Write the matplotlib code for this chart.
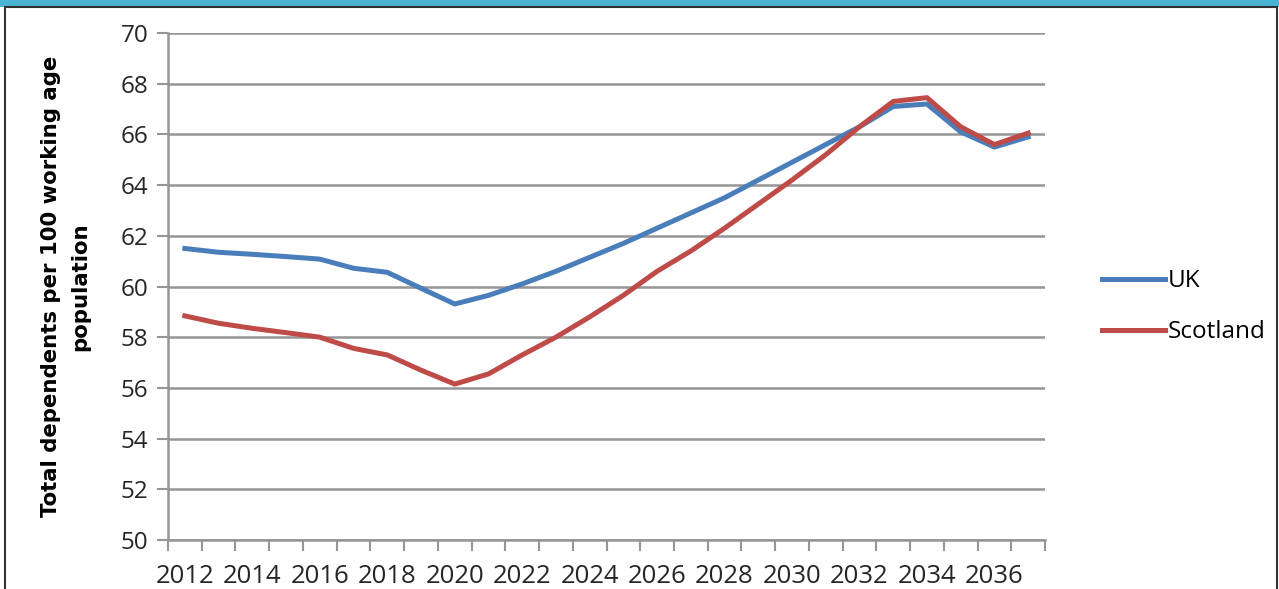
import matplotlib
matplotlib.use("Agg")
import matplotlib.pyplot as plt
from matplotlib.patches import Rectangle

# dependency ratio per 100 working age population
years = list(range(2012, 2038))
uk = [61.5, 61.35, 61.27, 61.18, 61.08, 60.72, 60.56, 59.93, 59.31, 59.65,
      60.1, 60.6, 61.15, 61.7, 62.3, 62.9, 63.5, 64.2, 64.9, 65.6,
      66.3, 67.1, 67.2, 66.1, 65.5, 65.9]
scotland = [58.84, 58.55, 58.35, 58.18, 58.0, 57.56, 57.3, 56.7, 56.15, 56.55,
            57.3, 58.0, 58.8, 59.65, 60.6, 61.4, 62.3, 63.25, 64.2, 65.2,
            66.3, 67.3, 67.45, 66.3, 65.6, 66.05]
label_years = list(range(2012, 2037, 2))
yticks = list(range(50, 71, 2))

plt.rcParams['font.family'] = ['Open Sans', 'DejaVu Sans']

fig = plt.figure(figsize=(12.79, 5.89), dpi=100)
ax = fig.add_axes([168/1279, 1 - 540/589, (1045-168)/1279, (540-33)/589])

grid = '#959595'
ax.plot(years, uk, color='#4A7EBB', lw=3.6, label='UK', solid_joinstyle='round')
ax.plot(years, scotland, color='#BE4B48', lw=3.6, label='Scotland', solid_joinstyle='round')

ax.set_ylim(50, 70)
ax.set_xlim(years[0] - 0.5, years[-1] + 0.5)
ax.set_yticks(yticks)
ax.yaxis.grid(True, color=grid, lw=1.8)
ax.set_axisbelow(True)

ax.set_xticks([y - 0.5 for y in years] + [years[-1] + 0.5])
ax.set_xticklabels([])
ax.set_xticks(label_years, minor=True)
ax.set_xticklabels([str(y) for y in label_years], minor=True)
ax.tick_params(axis='x', which='major', length=8, width=1.5, color=grid, direction='out')
ax.tick_params(axis='x', which='minor', length=0, pad=17, labelsize=18.5, labelcolor='#262626')
ax.tick_params(axis='y', length=8, width=1.5, color=grid, pad=6, labelsize=17.5, labelcolor='#262626')

for s in ['top', 'right']:
    ax.spines[s].set_visible(False)
for s in ['left', 'bottom']:
    ax.spines[s].set_color(grid)
    ax.spines[s].set_linewidth(1.8)

ax.set_ylabel('Total dependents per 100 working age\npopulation', fontsize=15.3,
              fontweight='bold', family=['DejaVu Sans'], labelpad=22, linespacing=1.55)

leg = ax.legend(loc='center left', bbox_to_anchor=(1.04, 0.46), frameon=False,
                fontsize=17.5, handlelength=2.6, handletextpad=0.1, labelspacing=1.1)

# page frame and banner
fig.patches.append(Rectangle((0, 1 - 7/589), 1, 7/589, transform=fig.transFigure,
                             facecolor='#4BB3D3', edgecolor='none'))
fig.patches.append(Rectangle((5/1279, -0.01), 1272/1279, 1.0 - 7/589 + 0.01,
                             transform=fig.transFigure, facecolor='none',
                             edgecolor='#333333', lw=1.5))

fig.savefig('out.png', dpi=100)
